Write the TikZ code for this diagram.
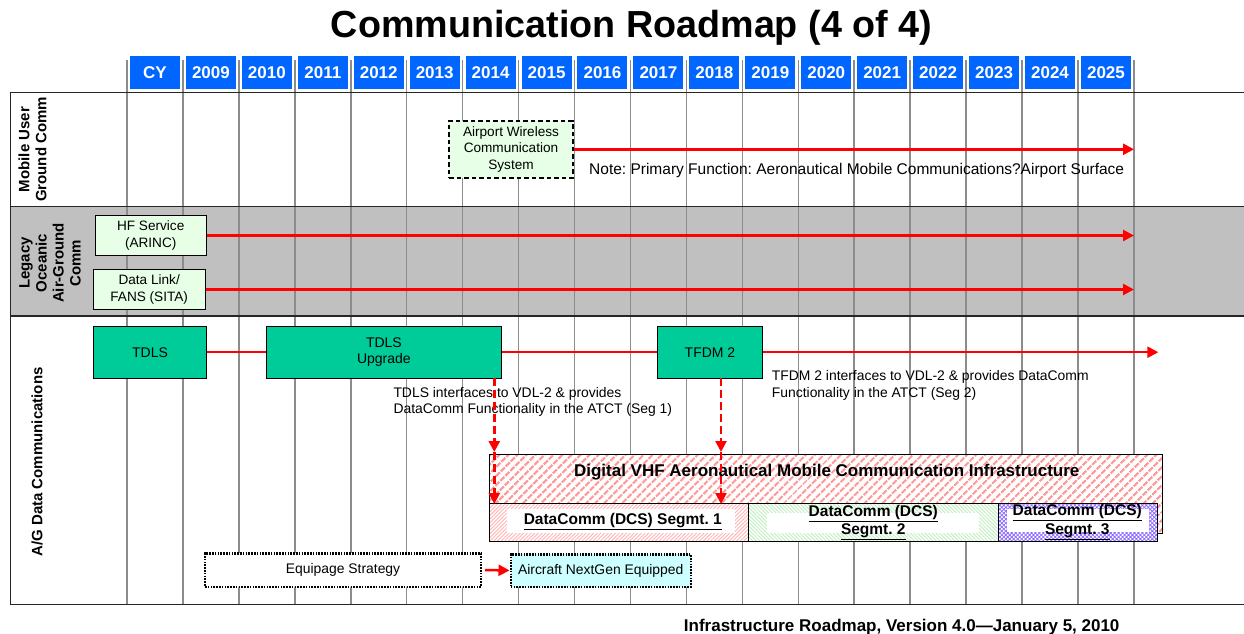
\documentclass[tikz,border=0pt]{standalone}
\usepackage{fontspec}
\setmainfont{Liberation Sans}
\usetikzlibrary{arrows.meta,patterns.meta}
\definecolor{hdrblue}{HTML}{0066FF}
\definecolor{lanegray}{HTML}{C0C0C0}
\definecolor{gridgray}{HTML}{8C8C8C}
\definecolor{palegreen}{HTML}{E6FFE6}
\definecolor{tealbox}{HTML}{00CC99}
\definecolor{palecyan}{HTML}{CCFFFF}
\definecolor{hatchred}{HTML}{FF9999}
\definecolor{hatchpink}{HTML}{FFB3B3}
\definecolor{hatchgreen}{HTML}{BFEFBF}
\definecolor{hatchpurple}{HTML}{8F6FFF}
\newcommand{\fs}[1]{\fontsize{#1}{#1}\selectfont}
\frenchspacing
\tikzset{
  hdr/.style={fill=hdrblue, text=white, font=\bfseries\fs{17}, minimum width=50, minimum height=33, inner sep=0},
  gridline/.style={gridgray, line width=1.5},
  laneline/.style={black!85, line width=1.3},
  lanelabel/.style={rotate=90, font=\bfseries\fontsize{15}{17}\selectfont, align=center, inner sep=0},
  sbox/.style={draw=black, line width=1, align=center, inner sep=0, font=\fontsize{13.6}{16.7}\selectfont},
  teal/.style={sbox, fill=tealbox, font=\fontsize{14}{16.5}\selectfont},
  greenbox/.style={sbox, fill=palegreen},
  redarrow/.style={red, line width=2.5, -{Triangle[length=11, width=11]}},
  redline/.style={red, line width=2.5},
  reddash/.style={red, line width=2.5, dash pattern=on 8 off 4, -{Triangle[length=11, width=11]}},
  note/.style={font=\fontsize{13.9}{16}\selectfont, align=left, inner sep=0},
  segtext/.style={font=\bfseries\fontsize{15.5}{18.5}\selectfont, align=center, inner sep=0},
  whitebox/.style={fill=white, inner sep=0},
  dotbox/.style={draw=black, line width=2.4, dash pattern=on 1.6 off 1.2, inner sep=0, font=\fontsize{13.9}{16}\selectfont},
}
\begin{document}
\begin{tikzpicture}[x=1pt, y=-1pt]
\useasboundingbox (0,0) rectangle (1244,634);
% title
\node[font=\bfseries\fs{37.7}, inner sep=0] (title) at (631.5,28) {Communication Roadmap (4 of 4)};
% lanes
\fill[lanegray] (10.7,206.7) rectangle (1244,316);
\foreach \i in {0,...,18} {
  \draw[gridline] ({127+55.94*\i},60) -- ({127+55.94*\i},605);
}
\draw[laneline] (1244,92.3) -- (10.7,92.3) -- (10.7,604.7) -- (1244,604.7);
\draw[laneline] (10.7,206.7) -- (1244,206.7);
\draw[laneline] (10.7,316) -- (1244,316);
% headers
\foreach \lab [count=\i from 0] in {CY,2009,2010,2011,2012,2013,2014,2015,2016,2017,2018,2019,2020,2021,2022,2023,2024,2025} {
  \node[hdr] (h\i) at ({127+55.94*\i+27.97},72.5) {\lab};
}
% lane labels
\node[lanelabel] (l1) at (32.5,149.5) {Mobile User\\Ground Comm};
\node[lanelabel] (l2) at (50,263) {Legacy\\Oceanic\\Air-Ground\\Comm};
\node[lanelabel] (l3) at (37,462) {A/G Data Communications};

% lane 1
\node[greenbox, draw, line width=2, dash pattern=on 4.5 off 3, minimum width=123.4, minimum height=56.7] (aws) at (511,149.3) {Airport Wireless\\Communication\\System};
\coordinate (e1) at (1134,149.3);
\draw[redarrow] (aws.east) -- (e1);
\node[note, anchor=west, font=\fontsize{15.5}{16}\selectfont] (n1) at (589,170.7) {Note: Primary Function: Aeronautical Mobile Communications?Airport Surface};

% lane 2
\node[greenbox, minimum width=111.3, minimum height=40] (hf) at (150.7,235.5) {HF Service\\(ARINC)};
\node[greenbox, minimum width=111.7, minimum height=40] (dl) at (149.2,289.5) {Data Link/\\FANS (SITA)};
\coordinate (e2) at (1134,235.5);
\coordinate (e3) at (1134,289.5);
\draw[redarrow] (hf.east) -- (e2);
\draw[redarrow] (dl.east) -- (e3);

% lane 3
\node[teal, minimum width=113.4, minimum height=52.3] (tdls) at (150,352.2) {TDLS};
\node[teal, minimum width=235.7, minimum height=52] (up) at (383.9,352.2) {TDLS\\Upgrade};
\node[teal, minimum width=104.6, minimum height=52] (tfdm) at (710,352.2) {TFDM 2};
\coordinate (e4) at (1158.3,352.2);
\draw[redline] (tdls.east) -- (up.west);
\draw[redline] (up.east) -- (tfdm.west);
\draw[redarrow] (tfdm.east) -- (e4);
\node[note, anchor=west] (t1) at (393.3,402.2) {TDLS interfaces to VDL-2 \& provides\\DataComm Functionality in the ATCT (Seg 1)};
\node[note, anchor=west, font=\fontsize{13.9}{17}\selectfont] (t2) at (771.7,385.8) {TFDM 2 interfaces to VDL-2 \& provides DataComm\\Functionality in the ATCT (Seg 2)};

% Digital VHF infrastructure
\node[draw=black, line width=1, preaction={fill=white}, pattern={Lines[angle=45, distance=6.5, line width=2.4]}, pattern color=hatchred, minimum width=673.4, minimum height=79.3, inner sep=0] (dvhf) at (826,493.7) {};
\node[font=\bfseries\fs{17}, inner sep=0] (dvhft) at (826.7,472.3) {Digital VHF Aeronautical Mobile Communication Infrastructure};

% segments
\node[draw=black, line width=1, preaction={fill=white}, pattern={Lines[angle=45, distance=2.6, line width=0.9]}, pattern color=hatchpink, minimum width=259, minimum height=37.7, inner sep=0] (s1) at (618.8,522.2) {};
\node[draw=black, line width=1, preaction={fill=white}, pattern={Lines[angle=-45, distance=2.6, line width=0.9]}, pattern color=hatchgreen, minimum width=250.4, minimum height=37.7, inner sep=0] (s2) at (873.5,522.2) {};
\node[draw=black, line width=1, preaction={fill=white}, pattern={Hatch[angle=45, distance=2.8, line width=0.8]}, pattern color=hatchpurple, minimum width=158.6, minimum height=37.7, inner sep=0] (s3) at (1078,522.2) {};
\node[whitebox, minimum width=228.3, minimum height=24] (w1) at (620.9,521) {};
\node[whitebox, minimum width=212, minimum height=19.7] (w2) at (872.7,522.9) {};
\node[whitebox, minimum width=142.6, minimum height=22.7] (w3) at (1078,520.7) {};
\node[segtext] (st1) at (622.8,522) {\underline{DataComm (DCS) Segmt. 1}};
\node[segtext] (st2) at (873.3,522.5) {\underline{DataComm (DCS)}\\\underline{Segmt. 2}};
\node[segtext] (st3) at (1077.3,522.2) {\underline{DataComm (DCS)}\\\underline{Segmt. 3}};

% dashed arrows
\coordinate (d1a) at (494.3,377.7);
\coordinate (d1b) at (494.3,452);
\coordinate (d1c) at (494.3,504);
\coordinate (d2a) at (721,378.3);
\coordinate (d2b) at (721,452);
\coordinate (d2c) at (721,504);
\draw[reddash] (d1a) -- (d1b);
\draw[reddash] (d1b) -- (d1c);
\draw[reddash] (d2a) -- (d2b);
\draw[reddash] (d2b) -- (d2c);

% equipage
\node[dotbox, fill=white, minimum width=276, minimum height=33.4] (eq) at (343,570) {Equipage Strategy};
\node[dotbox, fill=palecyan, minimum width=180, minimum height=32.4] (ac) at (600.7,570.5) {Aircraft NextGen Equipped};
\draw[red, line width=2.5, dash pattern=on 14 off 3, -{Triangle[length=11, width=11]}] ([xshift=3]eq.east) -- (ac.west);

% footer
\node[font=\bfseries\fs{17}, inner sep=0] (foot) at (901.7,627) {Infrastructure Roadmap, Version 4.0---January 5, 2010};
\end{tikzpicture}
\end{document}
